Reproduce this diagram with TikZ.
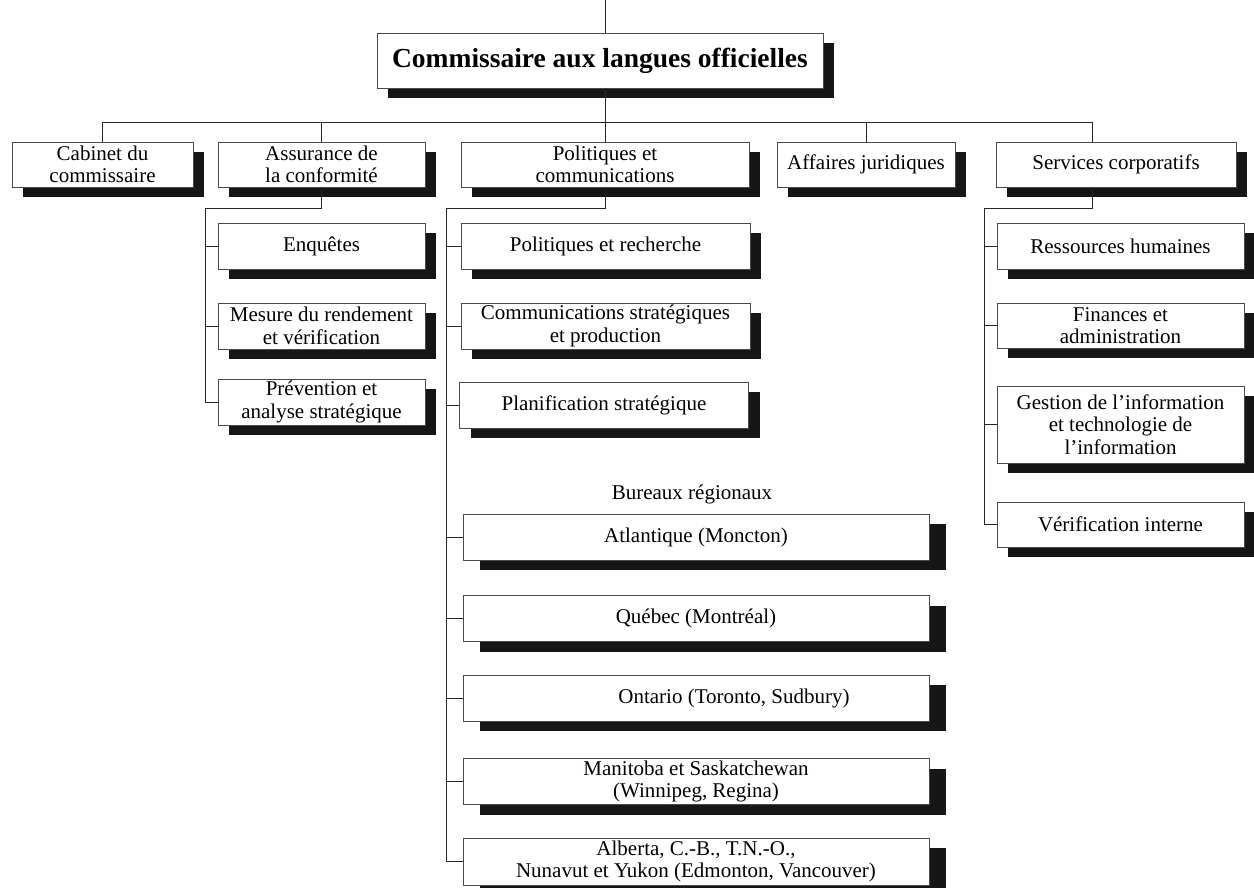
\documentclass[tikz,border=0pt]{standalone}
\usepackage{fontspec}
\setmainfont{Liberation Serif}
\usetikzlibrary{shadows}
\definecolor{shd}{HTML}{161616}
\definecolor{brd}{HTML}{4A4A4A}
\begin{document}
\begin{tikzpicture}[x=1pt,y=-1pt,
  box/.style={draw=brd, line width=0.9pt, fill=white, inner sep=0pt, align=center,
    font=\fontsize{21}{22.5}\selectfont,
    general shadow={fill=shd, shadow xshift=#1, shadow yshift=-10pt}},
  box/.default=11pt,
  rbox/.style={box=17pt, minimum width=466pt, minimum height=46pt},
  lvone/.style={box, minimum height=45pt},
  subbox/.style={box, minimum height=46pt},
  link/.style={draw=black!85, line width=0.9pt},
  plain/.style={inner sep=0pt, font=\fontsize{21}{22.5}\selectfont}
]
\useasboundingbox (0,0) rectangle (1254,888);

% top level
\node[box, minimum width=446pt, minimum height=55pt, font=\fontsize{27.5}{30}\selectfont\bfseries] (main) at (600,60.5) {Commissaire aux langues officielles};

% level one
\node[lvone, minimum width=181pt] (cab) at (102.5,164.5) {Cabinet du\\commissaire};
\node[lvone, minimum width=207pt] (ass) at (321.5,164.5) {Assurance de\\la conformité};
\node[lvone, minimum width=288pt] (pol) at (605,164.5) {Politiques et\\communications};
\node[lvone, minimum width=178pt] (aff) at (866,164.5) {Affaires juridiques};
\node[lvone, minimum width=240pt] (ser) at (1116,164.5) {Services corporatifs};

% Assurance children
\node[subbox, minimum width=207pt] (enq) at (321.5,246) {Enquêtes};
\node[subbox, minimum width=207pt] (mes) at (321.5,326) {Mesure du rendement\\et vérification};
\node[subbox, minimum width=207pt] (pre) at (321.5,402) {Prévention et\\analyse stratégique};

% Politiques children
\node[subbox, minimum width=289pt] (pr) at (605.5,246) {Politiques et recherche};
\node[subbox, minimum width=289pt] (com) at (605.5,326) {Communications stratégiques\\et production};
\node[subbox, minimum width=289pt] (pla) at (604,405) {Planification stratégique};

\node[plain] (bur) at (692,494) {Bureaux régionaux};
\node[rbox] (atl) at (696,537) {Atlantique (Moncton)};
\node[rbox] (que) at (696,618.5) {Québec (Montréal)};
\node[rbox] (ont) at (696,698) {\hspace*{76pt}Ontario (Toronto, Sudbury)};
\node[rbox] (man) at (696,781.5) {Manitoba et Saskatchewan\\(Winnipeg, Regina)};
\node[rbox, minimum height=47pt] (alb) at (696,861.5) {Alberta, C.-B., T.N.-O.,\\Nunavut et Yukon (Edmonton, Vancouver)};

% Services children
\node[subbox, minimum width=247pt] (rh) at (1120.5,246) {Ressources humaines};
\node[subbox, minimum width=247pt, minimum height=45pt] (fin) at (1120.5,325.5) {Finances et\\administration};
\node[subbox, minimum width=247pt, minimum height=77pt] (ges) at (1120.5,424.5) {Gestion de l’information\\et technologie de\\l’information};
\node[subbox, minimum width=247pt, minimum height=45pt] (ver) at (1120.5,524.5) {Vérification interne};

% connectors
\coordinate (top) at (605,0);
\coordinate (busR) at (1092,122);
\coordinate (aj) at (205,208);
\coordinate (pj) at (446,208);
\coordinate (sj) at (984,208);

\draw[link] (top) -- (top |- main.north);
\draw[link] (main.south -| pol.north) -- (pol.north);
\draw[link] (cab.north) |- (busR) -- (busR |- ser.north);
\draw[link] (ass.north) -- (ass.north |- busR);
\draw[link] (aff.north) -- (aff.north |- busR);

\draw[link] (ass.south) |- (aj) |- (pre.west);
\foreach \n in {enq,mes} \draw[link] (aj |- \n.west) -- (\n.west);

\draw[link] (pol.south) |- (pj) |- (alb.west);
\foreach \n in {pr,com,pla,atl,que,ont,man} \draw[link] (pj |- \n.west) -- (\n.west);

\draw[link] (ser.south -| busR) |- (sj) |- (ver.west);
\foreach \n in {rh,fin,ges} \draw[link] (sj |- \n.west) -- (\n.west);
\end{tikzpicture}
\end{document}
